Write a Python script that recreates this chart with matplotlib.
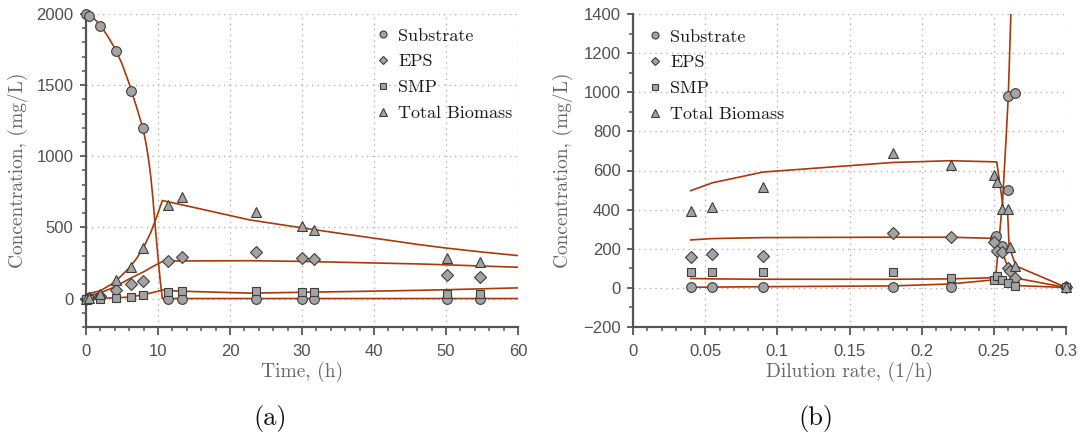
import matplotlib
matplotlib.use("Agg")
import matplotlib.pyplot as plt
from matplotlib.ticker import MultipleLocator, FuncFormatter

# ---------------- Panel (a): batch, concentration vs time ----------------
time_h = [0, 0.46, 2.0, 4.2, 6.3, 7.9, 11.4, 13.3, 23.6, 30.0, 31.6, 50.1, 54.7]
sub_a = [2000, 1986, 1918, 1741, 1460, 1197, 0, 0, 0, 0, 0, 0, 0]
eps_a = [0, 3, 15, 58, 100, 125, 262, 292, 327, 285, 278, 163, 152]
smp_a = [0, 0, 0, 5, 12, 28, 49, 55, 50, 47, 47, 35, 35]
bio_a = [0, 5, 33, 128, 222, 358, 654, 713, 608, 507, 484, 285, 255]

# model curves (a)
sub_mod_t = [0, 1, 2, 3, 4, 5, 6, 7, 7.9, 8.3, 8.66, 9.0, 9.3, 9.6, 10.0, 10.3, 10.6, 60]
sub_mod_a = [2000, 1975, 1920, 1845, 1760, 1650, 1510, 1350, 1197, 1100, 990, 855, 700, 515, 290, 130, 0, 0]
bio_mod_t = [0, 2, 4, 6, 7, 8, 9, 10, 10.6, 15, 22.8, 30, 35, 41.3, 46.4, 50, 55, 60]
bio_mod_a = [30, 55, 115, 215, 280, 360, 465, 600, 689, 640, 552, 497, 460, 415, 378, 355, 327, 302]
eps_mod_t = [0, 2, 4, 6, 8, 9.35, 10.7, 12, 22.8, 30, 40, 46.4, 50, 60]
eps_mod_a = [16, 40, 82, 138, 188, 227, 262, 264, 266, 261, 250, 243, 237, 220]
smp_mod_t = [0, 2, 4, 6, 8, 10.7, 13, 22.8, 30, 40, 46.4, 50, 60]
smp_mod_a = [0, 2, 5, 10, 27, 60, 52, 38, 44, 52, 58, 62, 75]

# ---------------- Panel (b): chemostat, concentration vs dilution rate ----------------
dil_sub = [0.04, 0.055, 0.09, 0.18, 0.22, 0.251, 0.2515, 0.256, 0.2595, 0.260, 0.265, 0.3]
sub_b = [4, 4, 4, 4, 4, 253, 265, 214, 500, 980, 998, 5]
dil_eps = [0.04, 0.055, 0.09, 0.18, 0.22, 0.25, 0.252, 0.256, 0.2595, 0.261, 0.265, 0.3]
eps_b = [157, 172, 165, 279, 262, 233, 190, 182, 102, 85, 52, 5]
dil_smp = [0.04, 0.055, 0.09, 0.18, 0.22, 0.25, 0.252, 0.256, 0.2595, 0.265, 0.3]
smp_b = [80, 80, 80, 80, 49, 41, 61, 41, 24, 10, 5]
dil_bio = [0.04, 0.055, 0.09, 0.18, 0.22, 0.25, 0.252, 0.256, 0.2595, 0.261, 0.265, 0.3]
bio_b = [394, 415, 517, 690, 628, 577, 542, 401, 405, 208, 112, 7]

# model curves (b)
sub_mod_d = [0.04, 0.055, 0.09, 0.18, 0.22, 0.25, 0.2514, 0.2561, 0.2583, 0.26, 0.2618, 0.2625]
sub_mod_b = [3, 4, 6, 10, 20, 41, 66, 449, 738, 976, 1398, 1500]
bio_mod_d = [0.04, 0.055, 0.09, 0.18, 0.22, 0.252, 0.2567, 0.2595, 0.2606, 0.2653, 0.3]
bio_mod_b = [497, 537, 592, 641, 650, 644, 400, 395, 210, 112, 3]
eps_mod_d = [0.04, 0.055, 0.09, 0.18, 0.22, 0.2502, 0.2525, 0.256, 0.2595, 0.2606, 0.2653, 0.3]
eps_mod_b = [245, 252, 257, 259, 259, 253, 200, 180, 110, 90, 50, 2]
smp_mod_d = [0.04, 0.055, 0.09, 0.18, 0.22, 0.25, 0.252, 0.256, 0.2595, 0.265, 0.3]
smp_mod_b = [48, 46, 44, 44, 46, 52, 62, 40, 25, 12, 2]

labels = ["Substrate", "EPS", "SMP", "Total Biomass"]

# ---------------- styling ----------------
plt.rcParams["font.family"] = ["Liberation Sans", "DejaVu Sans"]
SERIF = "cmr10"
LINE_C = "#A63A0A"
FACE = "#a3a3a3"
EDGE = "#3d3d3d"
SPINE = "#555555"

W, H = 1087, 434
fig = plt.figure(figsize=(W / 100, H / 100), dpi=100)
axA = fig.add_axes([86 / W, 1 - 327 / H, 432 / W, 313 / H])
axB = fig.add_axes([633 / W, 1 - 327 / H, 433 / W, 313 / H])


def fmt(v, pos):
    s = "%g" % v
    return s.replace("-", "\u2212")


def style(ax):
    for s in ["top", "right"]:
        ax.spines[s].set_visible(False)
    for s in ["left", "bottom"]:
        ax.spines[s].set_color(SPINE)
        ax.spines[s].set_linewidth(1.6)
    ax.tick_params(which="both", direction="out", color=SPINE, labelcolor="#505050", labelsize=12)
    ax.tick_params(axis="x", which="major", length=6, width=1.3, pad=6.5)
    ax.tick_params(axis="y", which="major", length=4, width=1.3, pad=5)
    ax.tick_params(which="minor", length=3, width=1.1)
    ax.grid(True, which="major", linestyle=(0, (1.0, 3.4)), color="#a8a8a8", linewidth=0.9)
    ax.set_axisbelow(True)
    ax.xaxis.set_major_formatter(FuncFormatter(fmt))
    ax.yaxis.set_major_formatter(FuncFormatter(fmt))


mk = dict(linestyle="none", markerfacecolor=FACE, markeredgecolor=EDGE, markeredgewidth=0.8,
          clip_on=False, zorder=5)
lk = dict(color=LINE_C, linewidth=1.2, zorder=4)


def draw(ax, series, models, legend_anchor):
    for (x, y), lab, m, ms in zip(series, labels, ["o", "D", "s", "^"], [7, 6.3, 5.5, 7.5]):
        ax.plot(x, y, marker=m, markersize=ms, label=lab, **mk)
    for x, y in models:
        ax.plot(x, y, **lk)
    leg = ax.legend(loc="upper left", bbox_to_anchor=legend_anchor, frameon=False,
                    prop={"family": SERIF, "size": 13}, borderaxespad=0, borderpad=0,
                    handlelength=0.9, handletextpad=0.4, labelspacing=0.56, markerscale=0.72)
    for t in leg.get_texts():
        t.set_color("#1a1a1a")


style(axA)
draw(axA, [(time_h, sub_a), (time_h, eps_a), (time_h, smp_a), (time_h, bio_a)],
     [(sub_mod_t, sub_mod_a), (bio_mod_t, bio_mod_a), (eps_mod_t, eps_mod_a), (smp_mod_t, smp_mod_a)],
     (0.668, 0.955))
axA.set_xlim(0, 60)
axA.set_ylim(-200, 2000)
axA.xaxis.set_major_locator(MultipleLocator(10))
axA.xaxis.set_minor_locator(MultipleLocator(2))
axA.yaxis.set_major_locator(MultipleLocator(500))
axA.yaxis.set_minor_locator(MultipleLocator(100))
axA.set_xlabel("Time, (h)", family=SERIF, size=14, color="#666666")
axA.set_ylabel("Concentration, (mg/L)", family=SERIF, size=14, color="#666666")
axA.xaxis.set_label_coords(0.5, -0.112)
axA.yaxis.set_label_coords(-0.135, 0.5)

style(axB)
draw(axB, [(dil_sub, sub_b), (dil_eps, eps_b), (dil_smp, smp_b), (dil_bio, bio_b)],
     [(sub_mod_d, sub_mod_b), (bio_mod_d, bio_mod_b), (eps_mod_d, eps_mod_b), (smp_mod_d, smp_mod_b)],
     (0.0316, 0.952))
axB.set_xlim(0, 0.3)
axB.set_ylim(-200, 1400)
axB.xaxis.set_major_locator(MultipleLocator(0.05))
axB.xaxis.set_minor_locator(MultipleLocator(0.01))
axB.yaxis.set_major_locator(MultipleLocator(200))
axB.yaxis.set_minor_locator(MultipleLocator(100))
axB.set_xlabel("Dilution rate, (1/h)", family=SERIF, size=14, color="#666666")
axB.set_ylabel("Concentration, (mg/L)", family=SERIF, size=14, color="#666666")
axB.xaxis.set_label_coords(0.5, -0.112)
axB.yaxis.set_label_coords(-0.139, 0.5)

fig.text(270 / W, 1 - 418 / H, "(a)", ha="center", va="center", family=SERIF, size=19, color="#111111")
fig.text(816 / W, 1 - 418 / H, "(b)", ha="center", va="center", family=SERIF, size=19, color="#111111")

fig.savefig("out.png", dpi=100)
